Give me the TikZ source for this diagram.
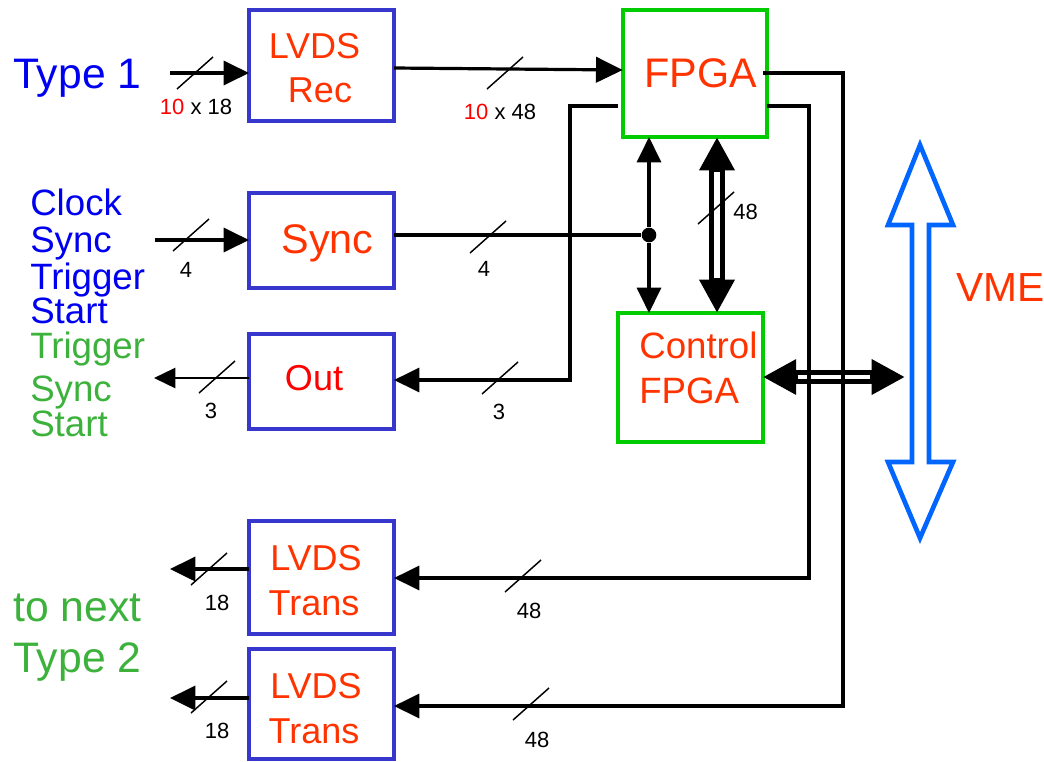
\documentclass[tikz,border=0pt]{standalone}
\usepackage{fontspec}
\setmainfont{Liberation Sans}
\usetikzlibrary{arrows.meta,calc}
\definecolor{boxblue}{RGB}{55,55,205}
\definecolor{boxgreen}{RGB}{0,204,0}
\definecolor{txtred}{RGB}{255,51,0}
\definecolor{txtblue}{RGB}{0,0,240}
\definecolor{txtgreen}{RGB}{60,178,60}
\definecolor{vmeblue}{RGB}{0,102,255}
\newcommand{\bmark}[2]{\draw[markline] ({#1-18},{#2+16}) -- ({#1+18},{#2-16});}
\begin{document}
\begin{tikzpicture}[x=0.75pt,y=-0.75pt,
  bbox/.style={draw=boxblue,line width=2.6pt,minimum width=108.75pt,inner sep=0pt,outer sep=0pt},
  gbox/.style={draw=boxgreen,line width=3pt,minimum width=108.5pt,inner sep=0pt,outer sep=0pt},
  wire/.style={line width=2.4pt},
  tip/.style={-{Triangle[length=19pt,width=18pt]}},
  bigtips/.style={{Triangle[length=25pt,width=25pt]}-{Triangle[length=25pt,width=25pt]}},
  markline/.style={line width=1.1pt},
  lbl/.style={inner sep=0pt,anchor=base,font=\fontsize{16.5pt}{18pt}\selectfont},
  boxtxt/.style={inner sep=0pt,text=txtred,font=\fontsize{27pt}{30pt}\selectfont},
  sidetxt/.style={inner sep=0pt,anchor=base west,font=\fontsize{27.5pt}{30pt}\selectfont},
  bigtxt/.style={inner sep=0pt,anchor=base west,font=\fontsize{32pt}{34pt}\selectfont},
]
\useasboundingbox (0,0) rectangle (1044,761);

% boxes
\node[bbox,minimum height=83.25pt] (lvdsrec) at (321.5,65.5) {};
\node[gbox,minimum height=95.25pt] (fpga) at (695,73.5) {};
\node[bbox,minimum height=71.25pt] (sync) at (321.5,240.5) {};
\node[bbox,minimum height=71.25pt] (out) at (321.5,381.5) {};
\node[gbox,minimum height=96.75pt] (ctrl) at (690.5,377.5) {};
\node[bbox,minimum height=84.75pt] (trans1) at (321.5,577.5) {};
\node[bbox,minimum height=82.5pt] (trans2) at (321.5,704) {};

% box texts
\node[boxtxt,anchor=base] (recA) at (314.5,58) {LVDS};
\node[boxtxt,anchor=base] (recB) at (320,102) {Rec};
\node[boxtxt,anchor=base,font=\fontsize{31pt}{33pt}\selectfont] (fpgaT) at (701,87) {FPGA};
\node[boxtxt,anchor=base,font=\fontsize{31pt}{33pt}\selectfont] (syncT) at (327.5,253) {Sync};
\node[boxtxt,anchor=base,text=red] (outT) at (314,390) {Out};
\node[boxtxt,anchor=base west,font=\fontsize{27.5pt}{30pt}\selectfont] (ctrlA) at (639,358) {Control};
\node[boxtxt,anchor=base west,font=\fontsize{27.5pt}{30pt}\selectfont] (ctrlB) at (639,403) {FPGA};
\node[boxtxt,anchor=base] (tr1A) at (316,570) {LVDS};
\node[boxtxt,anchor=base] (tr1B) at (314,615) {Trans};
\node[boxtxt,anchor=base] (tr2A) at (316,698) {LVDS};
\node[boxtxt,anchor=base] (tr2B) at (314,743) {Trans};

% side texts
\node[bigtxt,text=txtblue] (type1) at (13,88) {Type 1};
\node[sidetxt,text=txtblue] (sClock) at (30,215) {Clock};
\node[sidetxt,text=txtblue] (sSync) at (30,252) {Sync};
\node[sidetxt,text=txtblue] (sTrig) at (30,289) {Trigger};
\node[sidetxt,text=txtblue] (sStart) at (30,323) {Start};
\node[sidetxt,text=txtgreen] (oTrig) at (30,358) {Trigger};
\node[sidetxt,text=txtgreen] (oSync) at (30,401) {Sync};
\node[sidetxt,text=txtgreen] (oStart) at (30,436) {Start};
\node[bigtxt,text=txtgreen] (tonext) at (13,621) {to next};
\node[bigtxt,text=txtgreen] (type2) at (13,672) {Type 2};
\node[inner sep=0pt,anchor=base west,text=txtred,font=\fontsize{30.5pt}{33pt}\selectfont] (vmeT) at (956,301) {VME};

% VME bus arrow
\draw[vmeblue,line width=3.5pt,line join=miter,miter limit=10]
  (920,145) -- (953,225) -- (929,225) -- (929,462) -- (953,462) -- (920,538)
  -- (888,462) -- (912,462) -- (912,225) -- (888,225) -- cycle;
\coordinate (vmeport) at (905,377);

% double buses
\draw[line width=12pt,bigtips] (fpga.south -| 717,0) -- (ctrl.north -| 717,0);
\draw[white,line width=4.5pt,shorten <=26pt,shorten >=26pt] (fpga.south -| 717,0) -- (ctrl.north -| 717,0);
\draw[line width=10.5pt,bigtips] (ctrl.east |- vmeport) -- (vmeport);
\draw[white,line width=3.5pt,shorten <=26pt,shorten >=26pt] (ctrl.east |- vmeport) -- (vmeport);

% input / output wires
\coordinate (t1in) at (170,73);
\draw[wire,tip] (t1in) -- (lvdsrec.west |- t1in);
\draw[wire,-{Triangle[length=20pt,width=19pt]}] (lvdsrec.east |- 0,68) -- (fpga.west |- 0,70);
\coordinate (syncin) at (155,240);
\draw[wire,tip] (syncin) -- (sync.west |- syncin);
\node[circle,fill=black,inner sep=0pt,minimum size=11pt] (dot) at (649,235) {};
\draw[wire] (sync.east |- dot) -- (dot);
\draw[wire,tip] (dot) -- (fpga.south -| dot);
\draw[wire,tip] (dot) -- (ctrl.north -| dot);
\coordinate (outend) at (154,378);
\draw[line width=1.9pt,-{Triangle[length=16pt,width=15pt]}] (out.west |- outend) -- (outend);
\draw[wire,tip] ($(fpga.west |- 0,106)+(-5,0)$) -- (570,106) -- (570,380) -- (out.east |- 0,380);
\draw[wire,tip] ($(fpga.east |- 0,73)+(-4,0)$) -- (843,73) -- (843,706) -- (trans2.east |- 0,706);
\draw[wire,tip] (fpga.east |- 0,106) -- (809,106) -- (809,578) -- (trans1.east |- 0,578);
\coordinate (tr1out) at (170,569);
\coordinate (tr2out) at (170,698);
\draw[line width=2.8pt,tip] (trans1.west |- tr1out) -- (tr1out);
\draw[line width=2.8pt,tip] (trans2.west |- tr2out) -- (tr2out);

% bus width marks
\bmark{195}{73}
\bmark{505}{73}
\bmark{191}{235}
\bmark{488}{237}
\bmark{217}{377}
\bmark{500}{378}
\bmark{716}{208}
\bmark{209}{569}
\bmark{523}{576}
\bmark{209}{697}
\bmark{531}{704}

% labels
\node[lbl] (l1) at (196,114) {{\color{red}10} x 18};
\node[lbl] (l2) at (500,119) {{\color{red}10} x 48};
\node[lbl] (l3) at (186,277) {4};
\node[lbl] (l4) at (484,276) {4};
\node[lbl] (l5) at (211,418) {3};
\node[lbl] (l6) at (499,419) {3};
\node[lbl,anchor=base west] (l7) at (733,219) {48};
\node[lbl] (l8) at (217,610) {18};
\node[lbl] (l9) at (529,618) {48};
\node[lbl] (l10) at (217,738) {18};
\node[lbl] (l11) at (537,747) {48};
\end{tikzpicture}
\end{document}
